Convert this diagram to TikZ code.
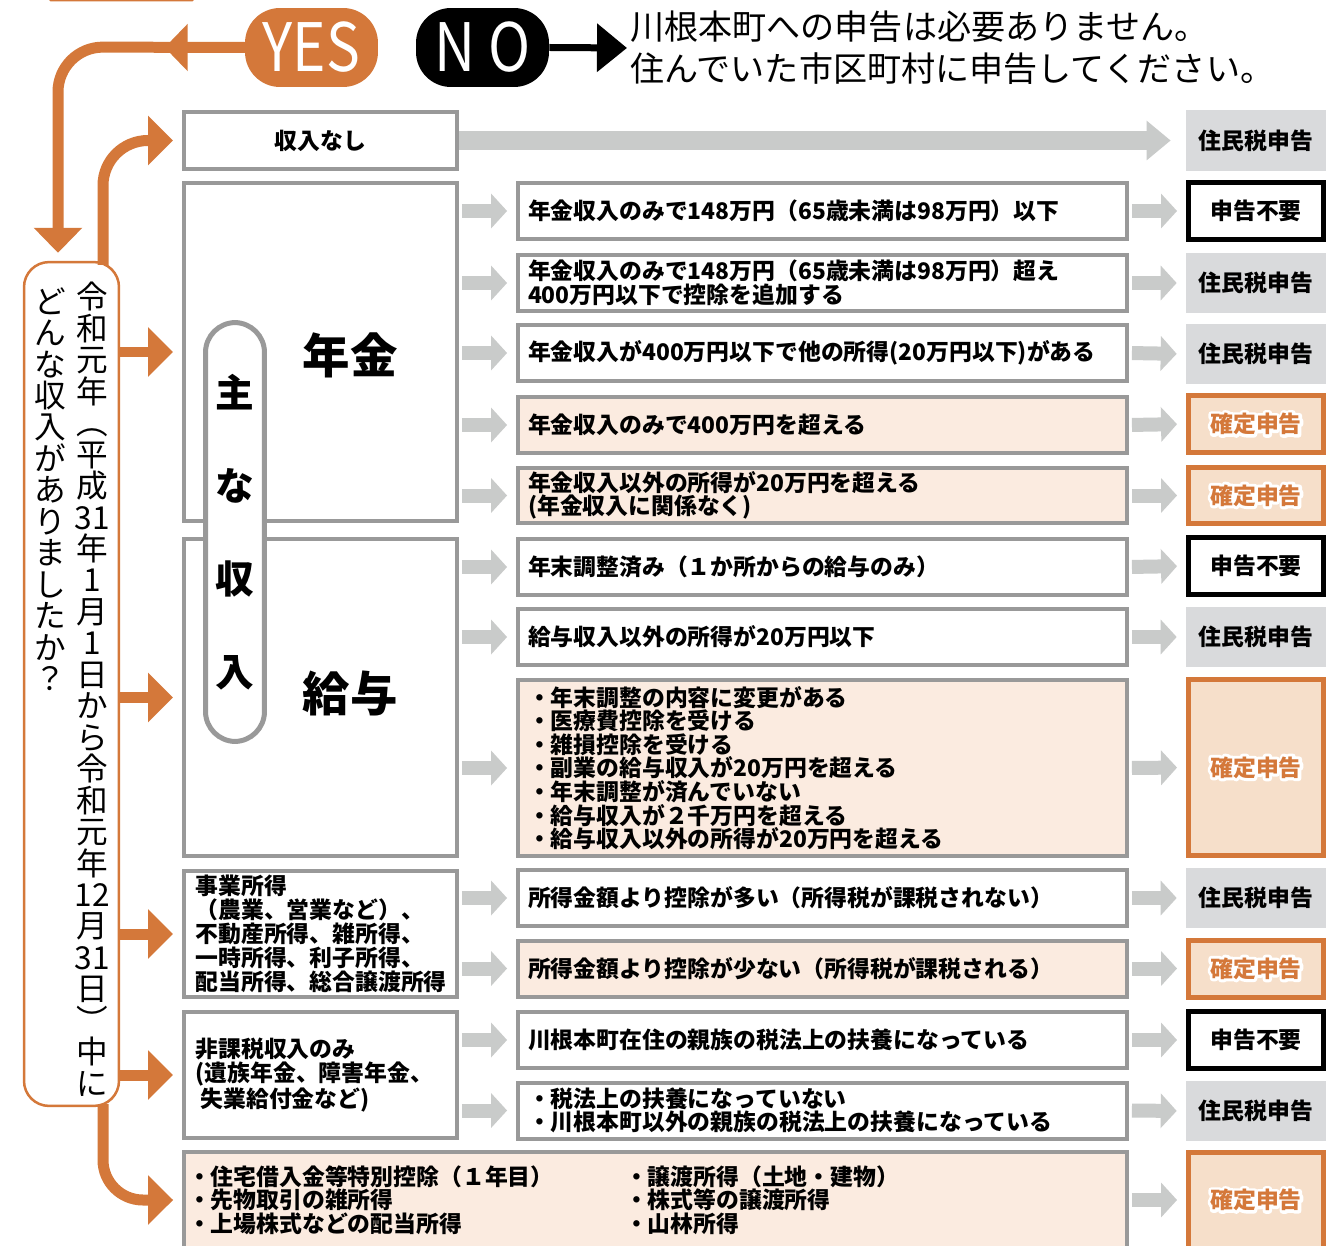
\documentclass[tikz,border=0pt]{standalone}
\usepackage{fontspec}
\setmainfont{Noto Sans CJK JP}
\usetikzlibrary{arrows.meta}
\definecolor{orng}{HTML}{D4783A}
\definecolor{boxgray}{HTML}{999999}
\definecolor{arrgray}{HTML}{C9CBCA}
\definecolor{resgray}{HTML}{D9DADC}
\definecolor{peach}{HTML}{FBEBE0}
\definecolor{respeach}{HTML}{F6DFCA}
% white outline behind a text (stroked copy, then the normal one)
\newcommand\halo[1]{\leavevmode\rlap{\special{pdf:code q 1 1 1 RG 3.4 w 1 j 1 Tr}#1\special{pdf:code Q}}#1}

\begin{document}
\begin{tikzpicture}[x=0.02cm, y=-0.02cm,
    txt/.style={font=\fontsize{13}{13.4}\selectfont\bfseries},
    box/.style={draw=boxgray, line width=0.08cm, fill=white, inner sep=0pt, txt},
    cat/.style={box, minimum width=5.46cm},
    cond/.style={box, minimum width=12.18cm, minimum height=1.12cm, text width=11.78cm, align=left},
    hot/.style={fill=peach},
    res/.style={minimum width=2.8cm, minimum height=1.2cm, inner sep=0pt, txt},
    jumin/.style={res, fill=resgray},
    fuyo/.style={res, draw=black, line width=0.1cm, fill=white, minimum width=2.7cm, minimum height=1.14cm},
    kakutei/.style={res, draw=orng, line width=0.1cm, fill=respeach, text=orng, minimum width=2.7cm, minimum height=1.14cm},
    garrow/.style={draw=arrgray, line width=0.28cm, -{Triangle[length=0.32cm, width=0.68cm]}, shorten <=0.06cm, shorten >=0.18cm},
    oline/.style={draw=orng, line width=0.22cm},
    oarrow/.style={oline, -{Triangle[length=0.5cm, width=0.96cm]}, shorten >=0.18cm},
  ]
    \useasboundingbox (0,0) rectangle (1344,1246);
    \clip (0,0) rectangle (1344,1246);
    \fill[white] (0,0) rectangle (1344,1246);
    \fill[orng, rounded corners=0.03cm] (49,-20) rectangle (194,1.5);

    % question and answers
    \node[fill=orng, rounded corners=0.7cm, minimum width=2.66cm, minimum height=1.58cm, inner sep=0pt, text=white, font=\fontsize{38}{38}\selectfont] (yes) at (311.5,47.5) {\scalebox{0.85}[1]{YES}};
    \node[fill=black, rounded corners=0.7cm, minimum width=2.66cm, minimum height=1.58cm, inner sep=0pt, text=white, font=\fontsize{38}{38}\selectfont] (no) at (482.5,47.5) {\scalebox{0.85}[1]{N O}};
    \node[anchor=west, align=left, inner sep=0pt, font=\fontsize{19.4}{23.8}\selectfont] (msg) at (630,48) {川根本町への申告は必要ありません。\\住んでいた市区町村に申告してください。};
    \node[draw=orng, line width=0.05cm, rounded corners=0.5cm, fill=white, minimum width=1.9cm, minimum height=16.88cm, inner sep=0pt] (ask) at (71.5,684) {};
    \node[anchor=north, inner sep=0pt, align=center, font=\fontsize{18}{17.9}\selectfont] (askR) at (92,282) {令\\和\\元\\年\\︵\\平\\成\\31\\年\\1\\月\\1\\日\\か\\ら\\令\\和\\元\\年\\12\\月\\31\\日\\︶\\中\\に};
    \node[anchor=north, inner sep=0pt, align=center, font=\fontsize{18}{17.9}\selectfont] (askL) at (50,287) {ど\\ん\\な\\収\\入\\が\\あ\\り\\ま\\し\\た\\か\\？};

    % income categories
    \node[cat, minimum height=1.14cm] (nashi) at (320.5,140.5) {収入なし};
    \node[cat, minimum height=6.76cm] (nenkin) at (320.5,352) {};
    \node[cat, minimum height=6.34cm] (kyuyo) at (320.5,697.5) {};
    \node[draw=boxgray, line width=0.1cm, rounded corners=0.6cm, fill=white, minimum width=1.18cm, minimum height=8.38cm, inner sep=0pt, align=center, font=\fontsize{22}{53}\selectfont\bfseries] (omona) at (235,532) {主\\な\\収\\入};
    \node[font=\fontsize{27}{27}\selectfont\bfseries] (nenkinlbl) at (350,355) {年金};
    \node[font=\fontsize{27}{27}\selectfont\bfseries] (kyuyolbl) at (350,693) {給与};
    \node[cat, minimum height=2.52cm, text width=5.0cm, align=left, font=\fontsize{13}{13.7}\selectfont\bfseries] (jigyo) at (320.5,934) {事業所得\\（農業、営業など）、\\不動産所得、雑所得、\\一時所得、利子所得、\\配当所得、総合譲渡所得};
    \node[cat, minimum height=2.52cm, text width=5.0cm, align=left, font=\fontsize{13}{13.7}\selectfont\bfseries] (hika) at (320.5,1075) {非課税収入のみ\\(遺族年金、障害年金、\\\hspace{0.1cm}失業給付金など)};
    \node[box, hot, minimum width=18.86cm, minimum height=1.92cm, text width=18.7cm, align=left] (other) at (655.5,1200) {\makebox[8.74cm][l]{・住宅借入金等特別控除（１年目）}・譲渡所得（土地・建物）\\\makebox[8.74cm][l]{・先物取引の雑所得}・株式等の譲渡所得\\\makebox[8.74cm][l]{・上場株式などの配当所得}・山林所得};

    % conditions
    \node[cond] (c2) at (822.5,211) {年金収入のみで148万円（65歳未満は98万円）以下};
    \node[cond] (c3) at (822.5,283) {年金収入のみで148万円（65歳未満は98万円）超え\\400万円以下で控除を追加する};
    \node[cond] (c4) at (822.5,353) {年金収入が400万円以下で他の所得(20万円以下)がある};
    \node[cond, hot] (c5) at (822.5,425) {年金収入のみで400万円を超える};
    \node[cond, hot] (c6) at (822.5,495.5) {年金収入以外の所得が20万円を超える\\(年金収入に関係なく)};
    \node[cond] (c7) at (822.5,567) {年末調整済み（１か所からの給与のみ）};
    \node[cond] (c8) at (822.5,637) {給与収入以外の所得が20万円以下};
    \node[cond, hot, minimum height=3.52cm] (c9) at (822.5,768) {・年末調整の内容に変更がある\\・医療費控除を受ける\\・雑損控除を受ける\\・副業の給与収入が20万円を超える\\・年末調整が済んでいない\\・給与収入が２千万円を超える\\・給与収入以外の所得が20万円を超える};
    \node[cond] (c10) at (822.5,898) {所得金額より控除が多い（所得税が課税されない）};
    \node[cond, hot] (c11) at (822.5,968.5) {所得金額より控除が少ない（所得税が課税される）};
    \node[cond] (c12) at (822.5,1040) {川根本町在住の親族の税法上の扶養になっている};
    \node[cond] (c13) at (822.5,1110.5) {・税法上の扶養になっていない\\・川根本町以外の親族の税法上の扶養になっている};

    % results
    \node[jumin, minimum height=1.22cm] (r1) at (1256,140.5) {住民税申告};
    \node[fuyo] (r2) at (1256,211) {申告不要};
    \node[jumin] (r3) at (1256,283) {住民税申告};
    \node[jumin] (r4) at (1256,354) {住民税申告};
    \node[kakutei] (r5) at (1256,424) {\halo{確定申告}};
    \node[kakutei] (r6) at (1256,495.5) {\halo{確定申告}};
    \node[fuyo] (r7) at (1256,566) {申告不要};
    \node[jumin] (r8) at (1256,637) {住民税申告};
    \node[kakutei, minimum height=3.52cm] (r9) at (1256,767.5) {\halo{確定申告}};
    \node[jumin] (r10) at (1256,898) {住民税申告};
    \node[kakutei] (r11) at (1256,968.5) {\halo{確定申告}};
    \node[fuyo] (r12) at (1256,1040) {申告不要};
    \node[jumin] (r13) at (1256,1111) {住民税申告};
    \node[kakutei, minimum height=1.92cm] (r14) at (1256,1200) {\halo{確定申告}};

    % gray arrows
    \draw[arrgray, line width=0.38cm, -{Triangle[length=0.48cm, width=0.76cm]}, shorten >=0.3cm] (nashi.east) -- (r1.west);
    \draw[garrow] (nenkin.east |- c2.west) -- (c2.west);
    \draw[garrow] (nenkin.east |- c3.west) -- (c3.west);
    \draw[garrow] (nenkin.east |- c4.west) -- (c4.west);
    \draw[garrow] (nenkin.east |- c5.west) -- (c5.west);
    \draw[garrow] (nenkin.east |- c6.west) -- (c6.west);
    \draw[garrow] (kyuyo.east |- c7.west) -- (c7.west);
    \draw[garrow] (kyuyo.east |- c8.west) -- (c8.west);
    \draw[garrow] (kyuyo.east |- c9.west) -- (c9.west);
    \draw[garrow] (jigyo.east |- c10.west) -- (c10.west);
    \draw[garrow] (jigyo.east |- c11.west) -- (c11.west);
    \draw[garrow] (hika.east |- c12.west) -- (c12.west);
    \draw[garrow] (hika.east |- c13.west) -- (c13.west);
    \draw[garrow] (c2.east) -- (r2.west);
    \draw[garrow] (c3.east) -- (r3.west);
    \draw[garrow] (c4.east) -- (r4.west);
    \draw[garrow] (c5.east) -- (r5.west);
    \draw[garrow] (c6.east) -- (r6.west);
    \draw[garrow] (c7.east) -- (r7.west);
    \draw[garrow] (c8.east) -- (r8.west);
    \draw[garrow] (c9.east) -- (r9.west);
    \draw[garrow] (c10.east) -- (r10.west);
    \draw[garrow] (c11.east) -- (r11.west);
    \draw[garrow] (c12.east) -- (r12.west);
    \draw[garrow] (c13.east) -- (r13.west);
    \draw[garrow] (other.east) -- (r14.west);

    % orange arrows
    \coordinate (yesdrop) at (58,47);
    \coordinate (upx) at (103,265);
    \coordinate (downx) at (103,1104);
    \draw[line width=0.14cm, -{Triangle[length=0.6cm, width=0.94cm]}, shorten >=0.06cm] (no.east) -- (msg.west);
    \draw[oline, rounded corners=0.9cm, -{Triangle[length=0.5cm, width=0.94cm]}, shorten >=0.16cm] (yes.west) -- (yesdrop) -- (yesdrop |- ask.north);
    \draw[oline, -{Triangle[length=0.46cm, width=0.92cm]}] (yes.west) -- +(-80,0);
    \draw[oarrow, rounded corners=0.9cm] (upx) |- (nashi.west);
    \draw[oarrow] (ask.east |- nenkin.west) -- (nenkin.west);
    \draw[oarrow] (ask.east |- kyuyo.west) -- (kyuyo.west);
    \draw[oarrow] (ask.east |- jigyo.west) -- (jigyo.west);
    \draw[oarrow] (ask.east |- hika.west) -- (hika.west);
    \draw[oarrow, rounded corners=0.8cm] (downx) |- (other.west);
\end{tikzpicture}
\end{document}
